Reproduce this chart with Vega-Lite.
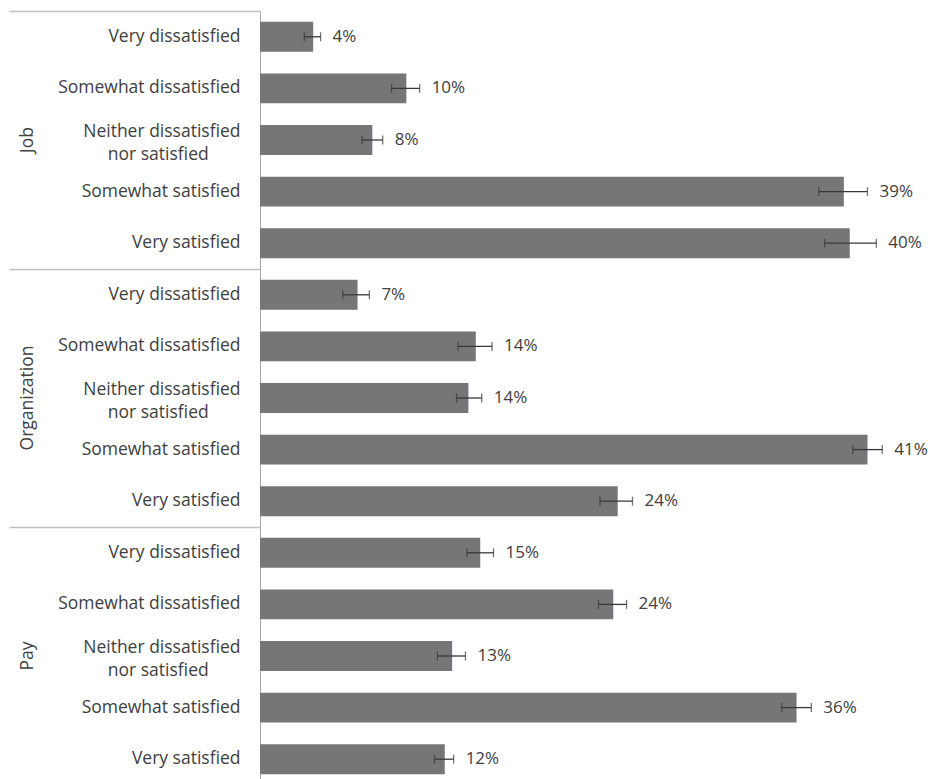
{
  "$schema": "https://vega.github.io/schema/vega-lite/v6.json",
  "padding": {"left": 8, "top": 10, "right": 0, "bottom": 0},
  "background": "white",
  "config": {"view": {"stroke": null}, "font": "Open Sans"},
  "data": {"values": [
    {"group": "Job", "label": "Very dissatisfied", "value": 3.6, "lo": 3.0, "hi": 4.1, "pct": "4%"},
    {"group": "Job", "label": "Somewhat dissatisfied", "value": 9.9, "lo": 8.9, "hi": 10.8, "pct": "10%"},
    {"group": "Job", "label": "Neither dissatisfied nor satisfied", "value": 7.6, "lo": 6.9, "hi": 8.3, "pct": "8%"},
    {"group": "Job", "label": "Somewhat satisfied", "value": 39.5, "lo": 37.8, "hi": 41.1, "pct": "39%"},
    {"group": "Job", "label": "Very satisfied", "value": 39.9, "lo": 38.2, "hi": 41.7, "pct": "40%"},
    {"group": "Organization", "label": "Very dissatisfied", "value": 6.6, "lo": 5.6, "hi": 7.4, "pct": "7%"},
    {"group": "Organization", "label": "Somewhat dissatisfied", "value": 14.6, "lo": 13.4, "hi": 15.7, "pct": "14%"},
    {"group": "Organization", "label": "Neither dissatisfied nor satisfied", "value": 14.1, "lo": 13.3, "hi": 15.0, "pct": "14%"},
    {"group": "Organization", "label": "Somewhat satisfied", "value": 41.1, "lo": 40.1, "hi": 42.1, "pct": "41%"},
    {"group": "Organization", "label": "Very satisfied", "value": 24.2, "lo": 23.0, "hi": 25.2, "pct": "24%"},
    {"group": "Pay", "label": "Very dissatisfied", "value": 14.9, "lo": 14.0, "hi": 15.8, "pct": "15%"},
    {"group": "Pay", "label": "Somewhat dissatisfied", "value": 23.9, "lo": 22.9, "hi": 24.8, "pct": "24%"},
    {"group": "Pay", "label": "Neither dissatisfied nor satisfied", "value": 13.0, "lo": 12.0, "hi": 13.9, "pct": "13%"},
    {"group": "Pay", "label": "Somewhat satisfied", "value": 36.3, "lo": 35.3, "hi": 37.3, "pct": "36%"},
    {"group": "Pay", "label": "Very satisfied", "value": 12.5, "lo": 11.8, "hi": 13.1, "pct": "12%"}
  ]},
  "facet": {"row": {"field": "group", "type": "nominal", "title": null, "sort": ["Job", "Organization", "Pay"],
    "header": {"labelAngle": -90, "labelOrient": "left", "labelFont": "Open Sans", "labelFontSize": 17.5, "labelColor": "#404040", "labelPadding": -37}}},
  "spacing": 0,
  "spec": {
    "width": 674,
    "height": 258,
    "encoding": {
      "y": {"field": "label", "type": "nominal", "sort": null,
        "scale": {"paddingInner": 0, "paddingOuter": 0},
        "axis": {
          "title": null,
          "domainColor": "#a6a6a6",
          "domainWidth": 1,
          "bandPosition": 0,
          "tickColor": "#c0c0c0",
          "tickWidth": 1.5,
          "tickSize": 251,
          "tickOpacity": {"condition": {"test": "datum.value == 'Very dissatisfied'", "value": 1}, "value": 0},
          "labelPadding": -231,
          "labelOffset": {"condition": {"test": "datum.value == 'Neither dissatisfied nor satisfied'", "value": -8}, "value": 0},
          "labelFont": "Open Sans",
          "labelFontSize": 17.5,
          "labelColor": "#404040",
          "labelLineHeight": 23,
          "labelLimit": 300,
          "labelExpr": "datum.value == 'Neither dissatisfied nor satisfied' ? ['Neither dissatisfied', 'nor satisfied\u00a0\u00a0\u00a0\u00a0\u00a0\u00a0\u00a0\u200b'] : datum.label"
        }}
    },
    "layer": [
      {"mark": {"type": "bar", "height": {"band": 0.58}, "color": "#767679"},
       "encoding": {"x": {"field": "value", "type": "quantitative", "scale": {"domain": [0, 45.6], "nice": false}, "axis": null}}},
      {"mark": {"type": "rule", "color": "#383838", "strokeWidth": 1.3},
       "encoding": {"x": {"field": "lo", "type": "quantitative"}, "x2": {"field": "hi"}}},
      {"mark": {"type": "tick", "color": "#383838", "size": 9, "thickness": 1.3},
       "encoding": {"x": {"field": "lo", "type": "quantitative"}}},
      {"mark": {"type": "tick", "color": "#383838", "size": 9, "thickness": 1.3},
       "encoding": {"x": {"field": "hi", "type": "quantitative"}}},
      {"mark": {"type": "text", "align": "left", "dx": 12, "font": "Open Sans", "fontSize": 17, "color": "#404040"},
       "encoding": {"x": {"field": "hi", "type": "quantitative"}, "text": {"field": "pct"}}}
    ]
  }
}
